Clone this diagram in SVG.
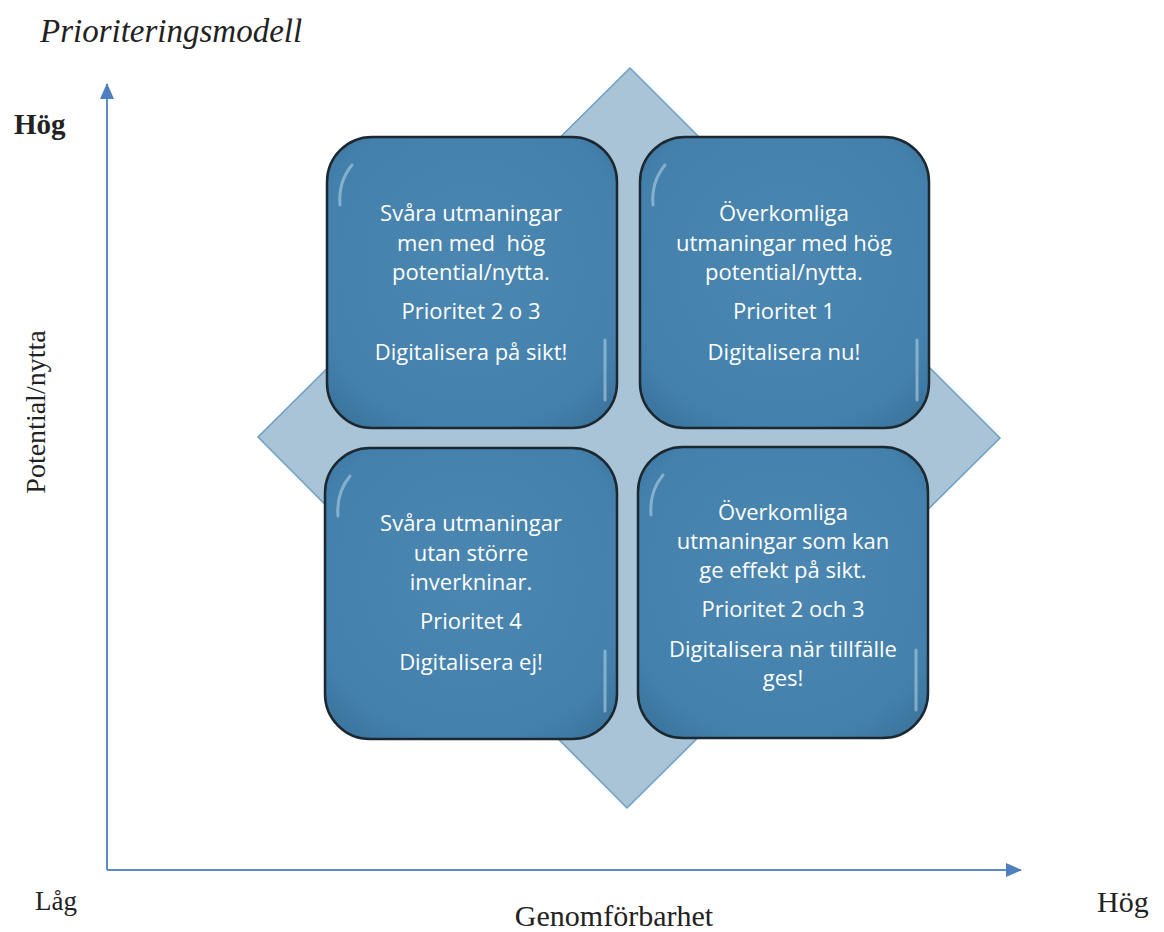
<svg xmlns="http://www.w3.org/2000/svg" width="1164" height="932" viewBox="0 0 1164 932">
<style>
.serif{font-family:"Liberation Serif","Times New Roman",serif;fill:#222}
.bt{font-family:"Open Sans","Liberation Sans",sans-serif;font-size:22px;fill:#fff;text-anchor:middle;white-space:pre}
.box{fill:url(#g);stroke:#1c2830;stroke-width:2.5}
.hl{fill:none;stroke:#d6ecf6;stroke-width:3;stroke-linecap:round;opacity:0.45}
.axis{stroke:#5d8bc4;stroke-width:2;fill:none}
</style>
<defs>
<radialGradient id="g" cx="50%" cy="45%" r="70%">
<stop offset="0" stop-color="#4b87b1"/>
<stop offset="0.8" stop-color="#4380ab"/>
<stop offset="1" stop-color="#3a739c"/>
</radialGradient>
<marker id="ah2" markerWidth="16" markerHeight="16" refX="15" refY="8" orient="auto" markerUnits="userSpaceOnUse" viewBox="0 0 16 16">
<path d="M0,1 L16,8 L0,15 z" fill="#4f7fbe"/>
</marker>
</defs>
<rect width="1164" height="932" fill="#fff"/>
<text class="serif" x="40" y="42" font-size="33" font-style="italic">Prioriteringsmodell</text>
<text class="serif" x="14" y="134" font-size="29" font-weight="bold">Hög</text>
<text class="serif" x="0" y="0" font-size="28" text-anchor="middle" transform="translate(45,412) rotate(-90)">Potential/nytta</text>
<text class="serif" x="35" y="910" font-size="27">Låg</text>
<text class="serif" x="614" y="926" font-size="30" text-anchor="middle">Genomförbarhet</text>
<text class="serif" x="1097" y="912" font-size="30">Hög</text>
<g id="connectors">
<path class="axis" d="M107,870 L107,84" marker-end="url(#ah2)"/>
<path class="axis" d="M107,870 L1021,870" marker-end="url(#ah2)"/>
</g>
<g id="diamond">
<polygon points="630,68 1000,438 627,808 258,437" fill="#a8c4d6" stroke="#6b9fc6" stroke-width="1.5"/>
</g>
<g id="tl">
<rect class="box" x="327" y="137" width="290" height="291" rx="45"/>
<path class="hl" d="M340,205 Q338,182 352,165"/><path class="hl" d="M605,340 L605,400"/>
<text class="bt" x="471" y="221">Svåra utmaningar</text>
<text class="bt" x="471" y="251" xml:space="preserve">men med  hög</text>
<text class="bt" x="471" y="280">potential/nytta.</text>
<text class="bt" x="471" y="319">Prioritet 2 o 3</text>
<text class="bt" x="471" y="360">Digitalisera på sikt!</text>
</g>
<g id="tr">
<rect class="box" x="640" y="137" width="289" height="291" rx="45"/>
<path class="hl" d="M653,205 Q651,182 665,165"/><path class="hl" d="M917,340 L917,400"/>
<text class="bt" x="784" y="221">Överkomliga</text>
<text class="bt" x="784" y="251">utmaningar med hög</text>
<text class="bt" x="784" y="280">potential/nytta.</text>
<text class="bt" x="784" y="319">Prioritet 1</text>
<text class="bt" x="784" y="360">Digitalisera nu!</text>
</g>
<g id="bl">
<rect class="box" x="325" y="448" width="292" height="291" rx="45"/>
<path class="hl" d="M338,516 Q336,493 350,476"/><path class="hl" d="M605,651 L605,711"/>
<text class="bt" x="471" y="531">Svåra utmaningar</text>
<text class="bt" x="471" y="561">utan större</text>
<text class="bt" x="471" y="590">inverkninar.</text>
<text class="bt" x="471" y="629">Prioritet 4</text>
<text class="bt" x="471" y="670">Digitalisera ej!</text>
</g>
<g id="br">
<rect class="box" x="638" y="447" width="290" height="291" rx="45"/>
<path class="hl" d="M651,515 Q649,492 663,475"/><path class="hl" d="M916,650 L916,710"/>
<text class="bt" x="783" y="520">Överkomliga</text>
<text class="bt" x="783" y="549">utmaningar som kan</text>
<text class="bt" x="783" y="578">ge effekt på sikt.</text>
<text class="bt" x="783" y="617">Prioritet 2 och 3</text>
<text class="bt" x="783" y="657">Digitalisera när tillfälle</text>
<text class="bt" x="783" y="686">ges!</text>
</g>
</svg>
